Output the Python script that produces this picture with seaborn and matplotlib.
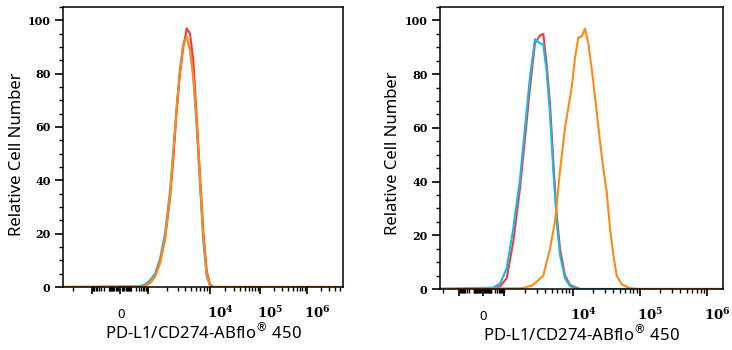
import numpy as np
import pandas as pd
import seaborn as sns
import matplotlib.pyplot as plt
import matplotlib.transforms as mtransforms
from matplotlib.ticker import FixedLocator, MultipleLocator

sns.set_style('ticks')
plt.rcParams['font.family'] = ['Noto Sans', 'DejaVu Sans']
plt.rcParams['text.color'] = 'black'
plt.rcParams['axes.labelcolor'] = 'black'
plt.rcParams['xtick.color'] = 'black'
plt.rcParams['ytick.color'] = 'black'

# fluorescence intensity (x) and relative cell number (y)
left_x = [-1e5, 337, 650, 1065, 1284, 1547, 1865, 2247, 2542, 2886, 3265, 3693,
          4193, 4743, 5363, 6087, 6885, 7789, 8842, 10000, 11641, 1e7]
left_cyan = [0, 0.3, 1, 2.5, 5, 10.5, 20, 36, 51, 68, 82, 91, 94, 89, 79, 60, 38, 17, 4, 0.5, 0, 0]
left_red = [0, 0, 0.5, 1.5, 4, 9, 18, 33, 48, 66, 80, 90, 97, 95, 85, 64, 42, 21, 6, 1, 0, 0]
left_orange = [0, 0, 0.5, 1.5, 4, 9, 18, 34, 50, 67, 81, 91, 94, 89, 79, 62, 40, 19, 5, 0.5, 0, 0]

right_x = [-1e5, 141, 479, 1084, 1355, 1699, 2012, 2381, 2819, 3338, 3731, 4184,
           4678, 5231, 5866, 6558, 7762, 9190, 12915, 1e7]
right_cyan = [0, 0.5, 2, 7.6, 22.6, 41, 60, 79, 93, 91.5, 91, 81, 65, 44, 25, 12.6, 4, 1, 0, 0]
right_red = [0, 0, 1, 4, 17.6, 37.5, 56, 75, 91.5, 94.4, 95, 83.5, 69, 47.7, 27.6, 15, 5, 1.5, 0, 0]

right_orange_x = [-1e5, 1880, 2635, 3731, 4678, 5538, 6558, 7762, 8678, 9734, 10890, 12187,
                  13687, 15315, 17144, 19252, 22830, 25551, 28597, 32116, 35944, 40226,
                  45164, 53574, 71101, 100000, 1e7]
right_orange = [0, 0.3, 1.5, 5, 15, 25, 44, 60, 67.5, 75, 86, 93.6, 94, 97, 91.5, 82, 66,
                55, 45, 36, 22.6, 12.7, 5, 1.7, 0.3, 0, 0]

major_vals = [-1e3, 0, 1e3, 1e4, 1e5, 1e6]
major_labels = ['', '0', '', r'$\mathbf{10^4}$', r'$\mathbf{10^5}$', r'$\mathbf{10^6}$']
y_ticks = [0, 20, 40, 60, 80, 100]

xlabel = r'PD-L1/CD274-ABflo$^{\circledR}$ 450'
ylabel = 'Relative Cell Number'

CYAN = '#19b9e6'
RED = '#f03c3c'
ORANGE = '#ff8a12'

# biexponential-like axis: anchors for the decades
anchors = np.array([-1e5, -1e4, -1e3, 0, 1e3, 1e4, 1e5, 1e6, 1e7])


def make_scale(pos):
    s_anchor = np.arcsinh(anchors / 50.0)
    pos = np.array(pos)

    def fwd(x):
        return np.interp(np.arcsinh(np.asarray(x, dtype=float) / 50.0), s_anchor, pos)

    def inv(p):
        return 50.0 * np.sinh(np.interp(np.asarray(p, dtype=float), pos, s_anchor))
    return fwd, inv


minor_vals = [-k * 10 ** m for m in (1, 2) for k in range(1, 10)] + [-1e4]
minor_vals += [k * 10 ** m for m in (1, 2, 3, 4, 5, 6) for k in range(1, 10)]
minor_vals = [v for v in minor_vals if v not in major_vals]


def style_axis(ax, pos, xr, ylab_xy):
    fwd, inv = make_scale(pos)
    ax.set_xscale('function', functions=(fwd, inv))
    ax.set_xlim(inv(xr[0]), inv(xr[1]))
    ax.set_ylim(0, 105)
    ax.xaxis.set_major_locator(FixedLocator(major_vals))
    ax.xaxis.set_minor_locator(FixedLocator(minor_vals))
    ax.set_xticklabels(major_labels)
    ax.set_yticks(y_ticks)
    ax.yaxis.set_minor_locator(MultipleLocator(5))
    ax.tick_params(axis='x', which='major', length=5, width=1.2, pad=17, direction='out')
    ax.tick_params(axis='x', which='minor', length=3, width=1.0, direction='out')
    ax.tick_params(axis='y', which='major', length=6, width=1.2, pad=3, direction='out')
    ax.tick_params(axis='y', which='minor', length=3, width=1.0, direction='out')
    shift = mtransforms.ScaledTranslation(-0.03, 0, ax.figure.dpi_scale_trans)
    for lab in ax.get_xticklabels():
        lab.set_ha('left')
        lab.set_va('baseline')
        lab.set_fontsize(9.5)
        lab.set_math_fontfamily('dejavuserif')
        lab.set_transform(lab.get_transform() + shift)
    for lab in ax.get_yticklabels():
        lab.set_family('DejaVu Serif')
        lab.set_weight('bold')
        lab.set_fontsize(8)
    for sp in ax.spines.values():
        sp.set_visible(True)
        sp.set_linewidth(1.1)
        sp.set_color('black')
    ax.set_xlabel(xlabel, fontsize=12, labelpad=1)
    ax.set_ylabel(ylabel, fontsize=12)
    ax.yaxis.set_label_coords(*ylab_xy)


fig = plt.figure(figsize=(7.32, 3.5), dpi=100)
ax1 = fig.add_axes([63 / 732, 1 - 287 / 350, 280 / 732, 280 / 350])
ax2 = fig.add_axes([440 / 732, 1 - 289 / 350, 283 / 732, 282 / 350])

left = pd.DataFrame({'x': left_x, 'cyan': left_cyan, 'red': left_red, 'orange': left_orange})
sns.lineplot(data=left, x='x', y='cyan', color=CYAN, lw=1.5, ax=ax1, estimator=None, sort=False)
sns.lineplot(data=left, x='x', y='red', color=RED, lw=1.5, ax=ax1, estimator=None, sort=False)
sns.lineplot(data=left, x='x', y='orange', color=ORANGE, lw=1.5, ax=ax1, estimator=None, sort=False)

right = pd.DataFrame({'x': right_x, 'cyan': right_cyan, 'red': right_red})
sns.lineplot(data=right, x='x', y='red', color=RED, lw=1.5, ax=ax2, estimator=None, sort=False)
sns.lineplot(data=right, x='x', y='cyan', color=CYAN, lw=1.5, ax=ax2, estimator=None, sort=False)
sns.lineplot(x=right_orange_x, y=right_orange, color=ORANGE, lw=1.5, ax=ax2, estimator=None, sort=False)

style_axis(ax1, [55, 73.3, 91.7, 120, 148.3, 210, 260, 307, 354], (63, 343), (-0.136, 0.475))
style_axis(ax2, [425, 442.7, 459.3, 482.7, 504.3, 572.5, 640, 707, 774], (440, 723), (-0.138, 0.48))

fig.savefig('out.png', dpi=100)
